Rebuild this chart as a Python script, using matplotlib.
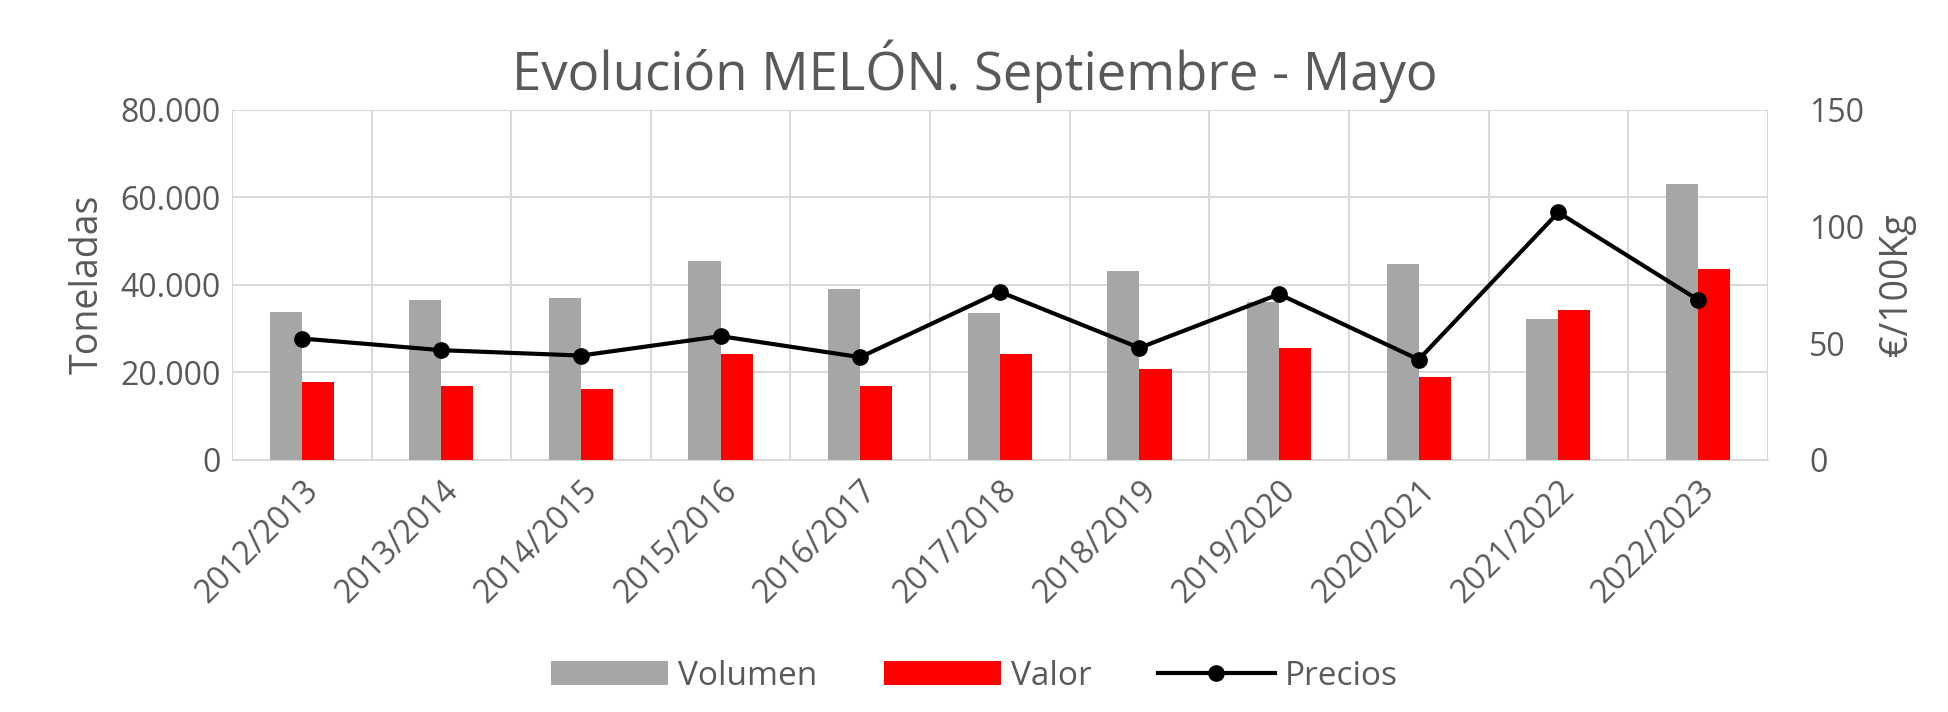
import matplotlib
matplotlib.use("Agg")
import matplotlib.pyplot as plt
import numpy as np

categories = ["2012/2013","2013/2014","2014/2015","2015/2016","2016/2017","2017/2018",
              "2018/2019","2019/2020","2020/2021","2021/2022","2022/2023"]
volumen = [33800, 36600, 36900, 45400, 39100, 33500, 43100, 36000, 44800, 32300, 63000]
valor = [17900, 17000, 16200, 24100, 17000, 24100, 20700, 25500, 19000, 34300, 43700]
precios = [52, 47, 44.7, 53, 44, 72, 48, 71, 43, 106, 68.6]

plt.rcParams['font.family'] = ['Open Sans', 'DejaVu Sans']
fig = plt.figure(figsize=(19.49, 7.12), dpi=100)
ax = fig.add_axes([0.119, 0.354, 0.788, 0.492])
x = np.arange(len(categories))
w = 0.23
ax.bar(x - w/2, volumen, w, color='#a6a6a6', label='Volumen', zorder=2)
ax.bar(x + w/2, valor, w, color='#ff0000', label='Valor', zorder=2)
ax.set_xlim(-0.5, len(categories) - 0.5)
ax.set_ylim(0, 80000)
ax.set_yticks(range(0, 80001, 20000))
ax.set_yticklabels([f"{v:,}".replace(",", ".") for v in range(0, 80001, 20000)])
ax.set_xticks(x)
ax.set_xticklabels(categories, rotation=45, ha='right', rotation_mode='anchor')
ax.set_xticks(np.arange(-0.5, len(categories), 1), minor=True)
ax.grid(axis='y', color='#d9d9d9', lw=1.5, zorder=0)
ax.grid(axis='x', which='minor', color='#d9d9d9', lw=1.5, zorder=0)
ax.tick_params(axis='x', which='both', length=0, labelsize=23, labelcolor='#595959', pad=10)
ax.tick_params(axis='y', length=0, labelsize=23, labelcolor='#595959', pad=8)
for s in ax.spines.values():
    s.set_visible(False)
ax.spines['bottom'].set_visible(True)
ax.spines['bottom'].set_color('#d9d9d9')
ax.set_ylabel('Toneladas', fontsize=27, color='#595959', labelpad=10)

ax2 = ax.twinx()
ax2.plot(x, precios, color='black', lw=3, marker='o', markersize=11, label='Precios')
ax2.set_ylim(0, 150)
ax2.set_yticks([0, 50, 100, 150])
ax2.tick_params(axis='y', length=0, labelsize=23, labelcolor='#595959', pad=30)
for s in ax2.spines.values():
    s.set_visible(False)
ax2.set_ylabel('€/100Kg', fontsize=27, color='#595959', labelpad=10)

fig.suptitle('Evolución MELÓN. Septiembre - Mayo', fontsize=38, color='#595959', y=0.945)
h1, l1 = ax.get_legend_handles_labels()
h2, l2 = ax2.get_legend_handles_labels()
fig.legend(h1 + h2, l1 + l2, loc='lower center', ncol=3, frameon=False, fontsize=24,
           bbox_to_anchor=(0.5, -0.015), handlelength=3.5, handletextpad=0.3,
           columnspacing=2, labelcolor='#595959')
fig.savefig('out.png')
